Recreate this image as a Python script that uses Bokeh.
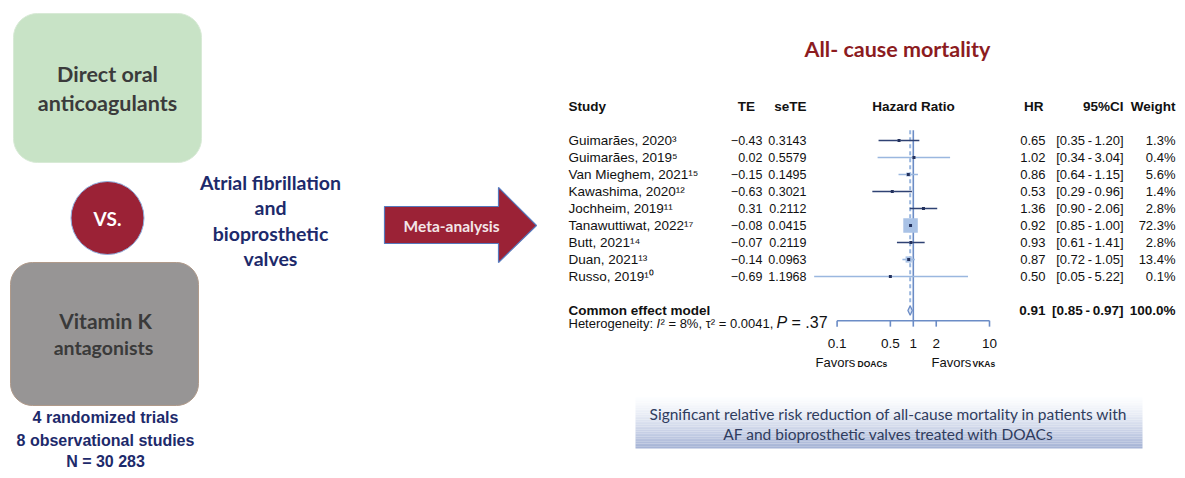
import math
import numpy as np
from bokeh.plotting import figure
from bokeh.models import Range1d, LogScale, ColumnDataSource
from bokeh.core.properties import value
from bokeh.embed import file_html
from bokeh.resources import INLINE

# ------------------------------------------------------------------ data
studies = ["Guimarães, 2020³", "Guimarães, 2019⁵", "Van Mieghem, 2021¹⁵",
           "Kawashima, 2020¹²", "Jochheim, 2019¹¹", "Tanawuttiwat, 2022¹⁷",
           "Butt, 2021¹⁴", "Duan, 2021¹³", "Russo, 2019¹⁰"]
te = [-0.43, 0.02, -0.15, -0.63, 0.31, -0.08, -0.07, -0.14, -0.69]
se_te = [0.3143, 0.5579, 0.1495, 0.3021, 0.2112, 0.0415, 0.2119, 0.0963, 1.1968]
hr = [0.65, 1.02, 0.86, 0.53, 1.36, 0.92, 0.93, 0.87, 0.50]
ci_lo = [0.35, 0.34, 0.64, 0.29, 0.90, 0.85, 0.61, 0.72, 0.05]
ci_hi = [1.20, 3.04, 1.15, 0.96, 2.06, 1.00, 1.41, 1.05, 5.22]
weight = [1.3, 0.4, 5.6, 1.4, 2.8, 72.3, 2.8, 13.4, 0.1]
pooled = {"hr": 0.91, "lo": 0.85, "hi": 0.97, "weight": 100.0}
het = {"i2": "8%", "tau2": "0.0041", "p": ".37"}
hr_ticks = [0.1, 0.5, 1, 2, 10]
hr_tick_labels = ["0.1", "0.5", "1", "2", "10"]

title = "All- cause mortality"
box_top = ["Direct oral", "anticoagulants"]
box_bottom = ["Vitamin K", "antagonists"]
counts = ["4 randomized trials", "8 observational studies", "N = 30 283"]
population = ["Atrial fibrillation", "and", "bioprosthetic", "valves"]
arrow_label = "Meta-analysis"
conclusion = ["Significant relative risk reduction of all-cause mortality in patients with",
              "AF and bioprosthetic valves treated with DOACs"]

# ------------------------------------------------------------------ styles
MAROON = "#9b2236"
TITLE_RED = "#8c1c1f"
NAVY = "#1d2a6b"
AXIS_BLUE = "#6b8cc6"
LIGHT_BLUE = "#9ab7df"
DARK_CI = "#2f4273"
ARIAL = value("Liberation Sans")
LATO = value("Lato")
row_line_colors = [DARK_CI, LIGHT_BLUE, LIGHT_BLUE, DARK_CI, DARK_CI,
                   LIGHT_BLUE, DARK_CI, LIGHT_BLUE, LIGHT_BLUE]

W, H = 1177, 470
p = figure(width=W, height=H, x_range=Range1d(0, W), y_range=Range1d(H, 0),
           output_backend="svg", toolbar_location=None,
           x_axis_type=None, y_axis_type=None, min_border=0)
p.outline_line_color = None
p.xgrid.visible = False
p.ygrid.visible = False

# log hazard-ratio scale and row scale for the forest plot
PX1, PXD = 912.8, 76.2          # pixel of HR=1, pixels per decade
p.extra_x_ranges = {"hr": Range1d(10 ** ((0 - PX1) / PXD), 10 ** ((W - PX1) / PXD))}
p.extra_x_scales = {"hr": LogScale()}
R0, RS = 140.0, 17.0             # pixel of first row, row step
p.extra_y_ranges = {"rows": Range1d((H - R0) / RS, (0 - R0) / RS)}


def rounded(x0, y0, x1, y1, r, n=10):
    xs, ys = [], []
    corners = [(x1 - r, y0 + r, -90, 0), (x1 - r, y1 - r, 0, 90),
               (x0 + r, y1 - r, 90, 180), (x0 + r, y0 + r, 180, 270)]
    for cx, cy, a0, a1 in corners:
        for t in np.linspace(a0, a1, n):
            xs.append(cx + r * math.cos(math.radians(t)))
            ys.append(cy + r * math.sin(math.radians(t)))
    return xs, ys


# ------------------------------------------------------------------ left panel
gx, gy = rounded(13, 13, 201, 162, 24)
p.patch(gx, gy, fill_color="#c8e3c6", line_color="#d8ead6", line_width=1)
p.text(x=[107, 107], y=[73, 102], text=box_top, text_font=LATO, text_font_style="bold",
       text_font_size="21.5px", text_color="#3b3b3b", text_align="center", text_baseline="middle")

bx, by = rounded(10, 262, 198, 405, 22)
p.patch(bx, by, fill_color="#979595", line_color="#b09a8a", line_width=1)
p.text(x=[105], y=[320], text=[box_bottom[0]], text_font=LATO, text_font_style="bold",
       text_font_size="21px", text_color="#3a3a3a", text_align="center", text_baseline="middle")
p.text(x=[103], y=[347], text=[box_bottom[1]], text_font=LATO, text_font_style="bold",
       text_font_size="19.5px", text_color="#3a3a3a", text_align="center", text_baseline="middle")

p.scatter(x=[107], y=[217.5], size=73, marker="circle", fill_color=MAROON,
          line_color="#8fb0e0", line_width=1)
p.text(x=[107], y=[218], text=["VS."], text_font=LATO, text_font_style="bold",
       text_font_size="19px", text_color="white", text_align="center", text_baseline="middle")

p.text(x=[105, 105, 105], y=[417, 440, 461], text=counts, text_font=ARIAL,
       text_font_style="bold", text_font_size="16px", text_color=NAVY,
       text_align="center", text_baseline="middle")

p.text(x=[270] * 4, y=[182, 207, 233, 258], text=population, text_font=LATO,
       text_font_style="bold", text_font_size="19.5px", text_color=NAVY,
       text_align="center", text_baseline="middle")

# arrow
ax = [384, 498, 498, 536, 498, 498, 384]
ay = [206, 206, 187, 225, 262, 243, 243]
p.patch(ax, ay, fill_color=MAROON, line_color="#5679bd", line_width=1.2)
p.text(x=[451], y=[225], text=[arrow_label], text_font=LATO, text_font_style="bold",
       text_font_size="15.5px", text_color="#f3e6e8", text_align="center", text_baseline="middle")

# ------------------------------------------------------------------ title
p.text(x=[897], y=[48], text=[title], text_font=LATO, text_font_style="bold",
       text_font_size="21.5px", text_color=TITLE_RED, text_align="center", text_baseline="middle")

# ------------------------------------------------------------------ forest plot
rows = list(range(len(studies)))
fmt = lambda v: f"{v:.2f}".replace("-", "−")
src = ColumnDataSource(dict(
    row=rows, study=studies, te=[fmt(v) for v in te], se=[f"{v:.4f}" for v in se_te],
    hr=hr, lo=ci_lo, hi=ci_hi, hr_txt=[f"{v:.2f}" for v in hr],
    ci_txt=[f"[{a:.2f}\u2009-\u2009{b:.2f}]" for a, b in zip(ci_lo, ci_hi)],
    w_txt=[f"{w:.1f}%" for w in weight],
    sq=[max(2.5, 14.5 * math.sqrt(w / 72.3)) for w in weight],
    col=row_line_colors))

txt = dict(y="row", y_range_name="rows", text_font=ARIAL,
           text_color="#111111", text_baseline="middle")
p.text(x=568, text="study", text_align="left", text_font_size="13.5px", source=src, **txt)
p.text(x=762, text="te", text_align="right", text_font_size="12.5px", source=src, **txt)
p.text(x=806, text="se", text_align="right", text_font_size="12.5px", source=src, **txt)
p.text(x=1045, text="hr_txt", text_align="right", text_font_size="13px", source=src, **txt)
p.text(x=1123, text="ci_txt", text_align="right", text_font_size="13px", source=src, **txt)
p.text(x=1175, text="w_txt", text_align="right", text_font_size="13px", source=src, **txt)

hdr = dict(y_range_name="rows", text_font=ARIAL, text_font_style="bold", text_font_size="13.5px",
           text_color="#111111", text_baseline="middle")
hy = -2
p.text(x=[568], y=[hy], text=["Study"], text_align="left", **hdr)
p.text(x=[746], y=[hy], text=["TE"], text_align="center", **hdr)
p.text(x=[806], y=[hy], text=["seTE"], text_align="right", **hdr)
p.text(x=[913], y=[hy], text=["Hazard Ratio"], text_align="center", **hdr)
p.text(x=[1043], y=[hy], text=["HR"], text_align="right", **hdr)
p.text(x=[1123], y=[hy], text=["95%CI"], text_align="right", **hdr)
p.text(x=[1175], y=[hy], text=["Weight"], text_align="right", **hdr)

# pooled row
cy = 10
p.text(x=[568], y=[cy], text=["Common effect model"], text_align="left", **hdr)
p.text(x=[1045], y=[cy], text=[f"{pooled['hr']:.2f}"], text_align="right", **hdr)
p.text(x=[1123], y=[cy], text=[f"[{pooled['lo']:.2f}\u2009-\u2009{pooled['hi']:.2f}]"],
       text_align="right", **hdr)
p.text(x=[1175], y=[cy], text=[f"{pooled['weight']:.1f}%"], text_align="right", **hdr)

# heterogeneity
hy2 = 10.78
ht = dict(y_range_name="rows", text_font=ARIAL, text_color="#111111", text_baseline="middle",
          text_align="left")
p.text(x=[568], y=[hy2], text=["Heterogeneity: "], text_font_size="13px", **ht)
p.text(x=[656], y=[hy2], text=["I"], text_font_size="13px", text_font_style="italic", **ht)
p.text(x=[660], y=[hy2], text=[f"² = {het['i2']}, τ² = {het['tau2']},"], text_font_size="13px", **ht)
p.text(x=[776], y=[hy2 - 0.08], text=["P"], text_font_size="16px", text_font_style="italic", **ht)
p.text(x=[791], y=[hy2 - 0.08], text=[f"= {het['p']}"], text_font_size="16px", **ht)

# reference lines
p.segment(x0=[1], y0=[-0.6], x1=[1], y1=[10.6], x_range_name="hr", y_range_name="rows",
          line_color=AXIS_BLUE, line_width=1.6)
p.segment(x0=[pooled["hr"]], y0=[-0.6], x1=[pooled["hr"]], y1=[9.7], x_range_name="hr",
          y_range_name="rows", line_color=LIGHT_BLUE, line_width=2, line_dash="4 3")

# CIs and squares
p.segment(x0="lo", y0="row", x1="hi", y1="row", x_range_name="hr", y_range_name="rows",
          line_color="col", line_width=1.6, source=src)
p.scatter(x="hr", y="row", size="sq", marker="square", x_range_name="hr", y_range_name="rows",
          fill_color="#a9c2e6", line_color=None, source=src)
p.scatter(x="hr", y="row", size=3, marker="square", x_range_name="hr", y_range_name="rows",
          fill_color="#23315c", line_color=None, source=src)

# pooled diamond
dh = 0.28
p.patch(x=[pooled["lo"], pooled["hr"], pooled["hi"], pooled["hr"]],
        y=[cy, cy - dh, cy, cy + dh], x_range_name="hr", y_range_name="rows",
        fill_color="#dce6f5", line_color=AXIS_BLUE, line_width=1.3)

# x axis (log HR)
ay_row = 10.6
p.segment(x0=[hr_ticks[0]], y0=[ay_row], x1=[hr_ticks[-1]], y1=[ay_row], x_range_name="hr",
          y_range_name="rows", line_color=AXIS_BLUE, line_width=1.6)
p.segment(x0=hr_ticks, y0=[ay_row] * 5, x1=hr_ticks, y1=[ay_row + 0.35] * 5, x_range_name="hr",
          y_range_name="rows", line_color=AXIS_BLUE, line_width=1.6)
p.text(x=hr_ticks, y=[11.95] * 5, text=hr_tick_labels, x_range_name="hr", y_range_name="rows",
       text_font=ARIAL, text_font_size="13.5px", text_color="#111111", text_align="center",
       text_baseline="middle")
fav = dict(y_range_name="rows", text_font=ARIAL, text_color="#111111", text_baseline="middle",
           text_align="left")
p.text(x=[815, 931], y=[13.05, 13.05], text=["Favors", "Favors"], text_font_size="13px", **fav)
p.text(x=[857, 972], y=[13.15, 13.15], text=["DOACs", "VKAs"], text_font_size="8.5px",
       text_font_style="bold", **fav)

# ------------------------------------------------------------------ conclusion box
n = 30
y_edges = np.linspace(397, 448, n + 1)
c0 = np.array([252, 253, 255]); c1 = np.array([166, 180, 214])
cols = []
for k in range(n):
    t = (k / (n - 1)) ** 1.3
    c = (c0 * (1 - t) + c1 * t).astype(int)
    cols.append("#%02x%02x%02x" % tuple(c))
p.quad(left=[635] * n, right=[1142] * n, top=list(y_edges[:-1]), bottom=list(y_edges[1:]),
       fill_color=cols, line_color=None)
p.text(x=[888, 888], y=[413, 433], text=conclusion, text_font=LATO, text_font_size="15.5px",
       text_color="#2f3c5e", text_align="center", text_baseline="middle")

open("out.html", "w").write(file_html(p, INLINE))
